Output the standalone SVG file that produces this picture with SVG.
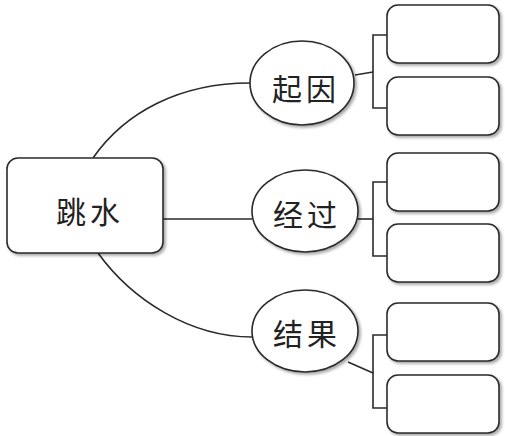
<svg xmlns="http://www.w3.org/2000/svg" width="505" height="436" viewBox="0 0 505 436">
<defs>
<filter id="sh" x="-10%" y="-10%" width="130%" height="130%">
<feGaussianBlur in="SourceAlpha" stdDeviation="1.5"/>
<feOffset dx="2" dy="2" result="b"/>
<feComponentTransfer><feFuncA type="linear" slope="0.35"/></feComponentTransfer>
<feMerge><feMergeNode/><feMergeNode in="SourceGraphic"/></feMerge>
</filter>
</defs>
<style>
.n{fill:#fff;stroke:#2a2a2a;stroke-width:1.6;filter:url(#sh)}
.c{fill:none;stroke:#2a2a2a;stroke-width:1.6}
.t{font-family:"Noto Sans CJK SC","Noto Sans CJK JP",sans-serif;font-size:30px;fill:#222;text-anchor:middle;dominant-baseline:central;letter-spacing:4px}
</style>
<rect width="505" height="436" fill="#fff"/>
<g id="connectors">
<path class="c" d="M93 158 C125 112 180 83 250 83"/>
<path class="c" d="M163 219 H252"/>
<path class="c" d="M98 253 C132 300 190 337 252 337"/>
<path class="c" d="M355 75 L373 72"/>
<path class="c" d="M387 35 H373 V108 H387"/>
<path class="c" d="M358 219 H373"/>
<path class="c" d="M387 182 H373 V256 H387"/>
<path class="c" d="M348 362 L373 373"/>
<path class="c" d="M387 335 H373 V408 H387"/>
</g>
<g id="main"><rect class="n" x="7" y="158" width="156" height="95" rx="11"/><text class="t" x="90" y="210">跳水</text></g>
<g id="qiyin"><ellipse class="n" cx="302" cy="83" rx="52" ry="42"/><text class="t" x="306" y="87">起因</text></g>
<g id="jingguo"><ellipse class="n" cx="305" cy="211" rx="53" ry="41"/><text class="t" x="307" y="213">经过</text></g>
<g id="jieguo"><ellipse class="n" cx="305" cy="331" rx="53" ry="41"/><text class="t" x="307" y="332">结果</text></g>
<g id="box1"><rect class="n" x="387" y="5" width="112" height="58" rx="11"/></g>
<g id="box2"><rect class="n" x="387" y="77" width="112" height="58" rx="11"/></g>
<g id="box3"><rect class="n" x="387" y="153" width="112" height="58" rx="11"/></g>
<g id="box4"><rect class="n" x="387" y="224" width="112" height="58" rx="11"/></g>
<g id="box5"><rect class="n" x="387" y="303" width="112" height="58" rx="11"/></g>
<g id="box6"><rect class="n" x="387" y="375" width="112" height="58" rx="11"/></g>
</svg>
